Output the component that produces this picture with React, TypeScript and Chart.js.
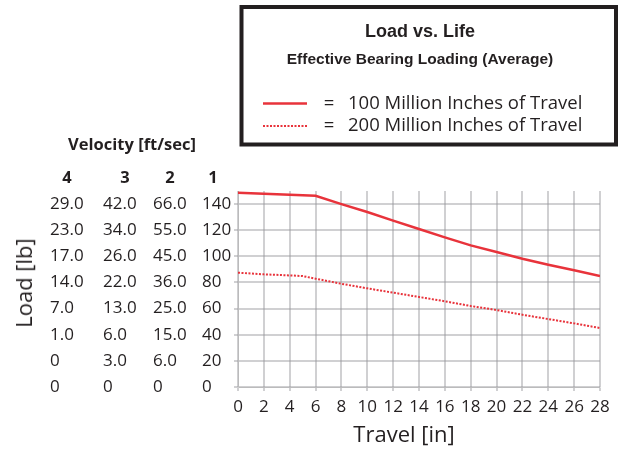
import React, { useEffect, useRef } from "react";
import { Chart, registerables } from "chart.js";

Chart.register(...registerables);

const travel = [0, 2, 4, 5, 6, 8, 10, 12, 14, 16, 18, 20, 22, 24, 26, 28];
const life100 = [148.7, 147.9, 147.2, null, 146.4, 140, 133.9, 127.3, 120.9, 114.5, 108.4, 103.3, 98.2, 93.6, 89.3, 84.9];
const life200 = [87.5, 86.2, 85.4, 84.9, 82.9, 79, 75.5, 72.2, 68.9, 65.6, 62, 58.9, 55.3, 52, 48.7, 45.1];
const loadTicks = [0, 20, 40, 60, 80, 100, 120, 140];
const velocity2 = ["0", "6.0", "15.0", "25.0", "36.0", "45.0", "55.0", "66.0"];
const velocity3 = ["0", "3.0", "6.0", "13.0", "22.0", "26.0", "34.0", "42.0"];
const velocity4 = ["0", "0", "1.0", "7.0", "14.0", "17.0", "23.0", "29.0"];
const velocityHeaders = ["4", "3", "2", "1"];
const seriesLabels = ["100 Million Inches of Travel", "200 Million Inches of Travel"];

const RED = "#e8333b";
const INK = "#231f20";
const GRID = "rgba(150,150,155,0.45)";
const FONT = "'Open Sans', 'DejaVu Sans', sans-serif";
const BOLD = "'Liberation Sans', Arial, sans-serif";

const decorPlugin = {
  id: "decor",
  afterDraw(chart: any) {
    const ctx = chart.ctx;
    const y = chart.scales.y;
    ctx.save();
    ctx.fillStyle = INK;
    ctx.font = `17px ${FONT}`;
    ctx.textAlign = "left";
    ctx.textBaseline = "middle";
    const cols: [string[], number][] = [
      [velocity4, 50],
      [velocity3, 103],
      [velocity2, 153],
    ];
    cols.forEach(([arr, x]) => {
      loadTicks.forEach((v, i) => {
        ctx.fillText(arr[i], x, y.getPixelForValue(v));
      });
    });
    ctx.font = `bold 16.5px ${FONT}`;
    ctx.textAlign = "center";
    const hx = [67, 125, 170, 213];
    velocityHeaders.forEach((h, i) => ctx.fillText(h, hx[i], 178));
    ctx.fillText("Velocity [ft/sec]", 132, 145);

    // x axis title
    ctx.font = `22px ${FONT}`;
    ctx.fillText("Travel [in]", 404, 436);

    // legend box
    ctx.strokeStyle = INK;
    ctx.lineWidth = 4;
    ctx.strokeRect(241.5, 7, 374.5, 137.5);
    ctx.fillStyle = INK;
    ctx.textAlign = "center";
    ctx.font = `bold 18px ${BOLD}`;
    ctx.fillText("Load vs. Life", 420, 32);
    ctx.font = `bold 15.5px ${BOLD}`;
    ctx.fillText("Effective Bearing Loading (Average)", 420, 60);

    const ds = chart.data.datasets;
    const rows = [103.5, 126];
    rows.forEach((ry, i) => {
      const d = ds[i];
      ctx.beginPath();
      ctx.strokeStyle = d.borderColor;
      ctx.lineWidth = d.borderWidth;
      ctx.setLineDash(d.borderDash || []);
      ctx.moveTo(263, ry);
      ctx.lineTo(307, ry);
      ctx.stroke();
      ctx.setLineDash([]);
      ctx.fillStyle = INK;
      ctx.font = `18.5px ${FONT}`;
      ctx.textAlign = "center";
      ctx.fillText("=", 329, ry);
      ctx.textAlign = "left";
      ctx.fillText(d.label, 348, ry);
    });
    ctx.restore();
  },
};

export default function App() {
  const ref = useRef<HTMLCanvasElement>(null);
  useEffect(() => {
    document.body.style.margin = "0";
    const chart = new Chart(ref.current!, {
      type: "line",
      data: {
        datasets: [
          {
            label: seriesLabels[0],
            data: travel.map((x, i) => ({ x, y: life100[i] })).filter((p) => p.y !== null) as any,
            borderColor: RED,
            borderWidth: 2.5,
            pointRadius: 0,
            tension: 0,
            fill: false,
          },
          {
            label: seriesLabels[1],
            data: travel.map((x, i) => ({ x, y: life200[i] })) as any,
            borderColor: RED,
            borderWidth: 2,
            borderDash: [2, 1.5],
            pointRadius: 0,
            tension: 0,
            fill: false,
          },
        ],
      },
      options: {
        animation: false,
        responsive: false,
        devicePixelRatio: 1,
        layout: { padding: { left: 202, right: 23, top: 191, bottom: 0 } },
        plugins: { legend: { display: false }, title: { display: false }, tooltip: { enabled: false } },
        scales: {
          x: {
            type: "linear",
            min: 0,
            max: 28,
            grid: { display: true, drawOnChartArea: true, drawTicks: true, color: GRID, lineWidth: 2, tickLength: 4 },
            afterFit: (s: any) => {
              s.height = 64;
            },
            ticks: {
              stepSize: 2,
              autoSkip: false,
              maxRotation: 0,
              padding: 6,
              color: INK,
              font: { family: FONT, size: 17 },
            },
          },
          y: {
            type: "linear",
            min: 0,
            max: 150,
            grid: { display: true, drawOnChartArea: true, drawTicks: true, color: GRID, lineWidth: 2, tickLength: 4 },
            afterBuildTicks: (s: any) => {
              s.ticks = loadTicks.map((v) => ({ value: v }));
            },
            afterFit: (s: any) => {
              s.width = 36;
            },
            ticks: {
              crossAlign: "far",
              padding: 4,
              color: INK,
              font: { family: FONT, size: 17 },
            },
          },
        },
      },
      plugins: [decorPlugin],
    });
    return () => chart.destroy();
  }, []);
  return (
    <div style={{ position: "relative", width: 623, height: 451 }}>
      <canvas ref={ref} width={623} height={451} style={{ width: 623, height: 451, display: "block" }} />
      <div
        style={{
          position: "absolute",
          left: 23,
          top: 282.5,
          transform: "translate(-50%, -50%) rotate(-90deg)",
          whiteSpace: "nowrap",
          fontFamily: FONT,
          fontSize: 22,
          lineHeight: 1,
          color: INK,
        }}
      >
        Load [lb]
      </div>
    </div>
  );
}
